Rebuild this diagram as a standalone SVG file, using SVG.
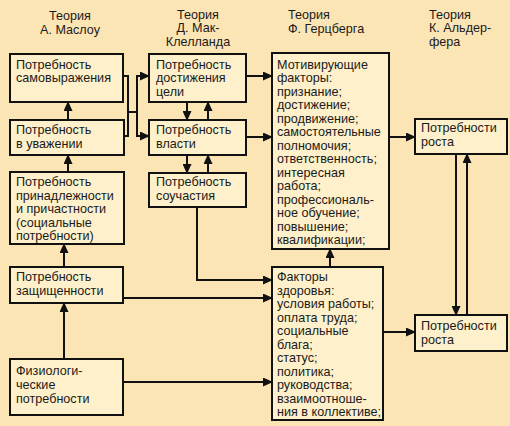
<svg xmlns="http://www.w3.org/2000/svg" width="510" height="426" viewBox="0 0 510 426">
<defs>
<style>
.bg{fill:#FCE5B5}
.box rect{fill:#FEF0CA;stroke:#111;stroke-width:2}
text{font-family:"Liberation Sans",Arial,sans-serif;font-size:12.6px;fill:#1a1a1a}
.t{text-anchor:middle}
.c{fill:none;stroke:#111;stroke-width:2}
.a{marker-end:url(#arr)}
</style>
<marker id="arr" markerWidth="10" markerHeight="9" refX="9" refY="4.5" orient="auto" markerUnits="userSpaceOnUse"><path d="M0,0 L10,4.5 L0,9 z" fill="#111"/></marker>
</defs>
<rect class="bg" x="0" y="0" width="510" height="426"/>
<g id="titles">
<text class="t" x="70" y="20">Теория</text>
<text class="t" x="70" y="34">А. Маслоу</text>
<text class="t" x="198" y="18.5">Теория</text>
<text class="t" x="198" y="32">Д. Мак-</text>
<text class="t" x="198" y="45.5">Клелланда</text>
<text x="288" y="18.5">Теория</text>
<text x="288" y="32.5">Ф. Герцберга</text>
<text x="429" y="18.5">Теория</text>
<text x="429" y="32">К. Альдер-</text>
<text x="429" y="45.5">фера</text>
</g>
<g id="b1" class="box"><rect x="10" y="54" width="113" height="48"/>
<text x="16" y="68.5">Потребность</text><text x="16" y="82">самовыражения</text></g>
<g id="b2" class="box"><rect x="10" y="120" width="114" height="35"/>
<text x="16" y="134">Потребность</text><text x="16" y="147.5">в уважении</text></g>
<g id="b3" class="box"><rect x="10" y="172" width="114" height="72"/>
<text x="16" y="186">Потребность</text><text x="16" y="199.5">принадлежности</text><text x="16" y="213">и причастности</text><text x="16" y="226.5">(социальные</text><text x="16" y="240">потребности)</text></g>
<g id="b4" class="box"><rect x="10" y="267" width="113" height="36"/>
<text x="16" y="281">Потребность</text><text x="16" y="294.5">защищенности</text></g>
<g id="b5" class="box"><rect x="10" y="359" width="113" height="56"/>
<text x="16" y="375">Физиологи-</text><text x="16" y="389">ческие</text><text x="16" y="403">потребности</text></g>
<g id="m1" class="box"><rect x="149" y="54" width="97" height="48"/>
<text x="156" y="68.5">Потребность</text><text x="156" y="82">достижения</text><text x="156" y="95.5">цели</text></g>
<g id="m2" class="box"><rect x="149" y="120" width="97" height="35"/>
<text x="156" y="134">Потребность</text><text x="156" y="147.5">власти</text></g>
<g id="m3" class="box"><rect x="149" y="173" width="97" height="34"/>
<text x="156" y="186">Потребность</text><text x="156" y="199.5">соучастия</text></g>
<g id="h1" class="box"><rect x="272" y="53" width="117" height="196"/>
<text x="277" y="68.5">Мотивирующие</text><text x="277" y="82">факторы:</text><text x="277" y="95.5">признание;</text><text x="277" y="109">достижение;</text><text x="277" y="122.5">продвижение;</text><text x="277" y="136">самостоятельные</text><text x="277" y="149.5">полномочия;</text><text x="277" y="163">ответственность;</text><text x="277" y="176.5">интересная</text><text x="277" y="190">работа;</text><text x="277" y="203.5">профессиональ-</text><text x="277" y="217">ное обучение;</text><text x="277" y="230.5">повышение;</text><text x="277" y="244">квалификации;</text></g>
<g id="h2" class="box"><rect x="272" y="267" width="111" height="153"/>
<text x="277" y="281">Факторы</text><text x="277" y="294.5">здоровья:</text><text x="277" y="308">условия работы;</text><text x="277" y="321.5">оплата труда;</text><text x="277" y="335">социальные</text><text x="277" y="348.5">блага;</text><text x="277" y="362">статус;</text><text x="277" y="375.5">политика;</text><text x="277" y="389">руководства;</text><text x="277" y="402.5">взаимоотноше-</text><text x="277" y="416">ния в коллективе;</text></g>
<g id="a1" class="box"><rect x="415" y="119" width="92" height="35"/>
<text x="421" y="132">Потребности</text><text x="421" y="145.5">роста</text></g>
<g id="a2" class="box"><rect x="415" y="315" width="92" height="36"/>
<text x="421" y="330">Потребности</text><text x="421" y="343.5">роста</text></g>
<g id="connectors">
<path class="c a" d="M68,120 V102"/>
<path class="c a" d="M68,172 V155"/>
<path class="c a" d="M64,267 V244"/>
<path class="c a" d="M64,359 V303"/>
<path class="c" d="M123,76 H128 V136 H124"/>
<path class="c" d="M128,112 H137"/>
<path class="c a" d="M137,112 V76 H149"/>
<path class="c a" d="M137,112 V136 H149"/>
<path class="c a" d="M187,102 V120"/>
<path class="c a" d="M208,120 V102"/>
<path class="c a" d="M187,155 V173"/>
<path class="c a" d="M208,173 V155"/>
<path class="c a" d="M246,76 H272"/>
<path class="c a" d="M246,137 H272"/>
<path class="c a" d="M197,207 V280 H272"/>
<path class="c a" d="M123,298 H272"/>
<path class="c a" d="M123,382 H272"/>
<path class="c a" d="M330,267 V249"/>
<path class="c a" d="M389,137 H415"/>
<path class="c a" d="M383,332 H415"/>
<path class="c a" d="M456,154 V315"/>
<path class="c a" d="M467,315 V154"/>
</g>
</svg>
